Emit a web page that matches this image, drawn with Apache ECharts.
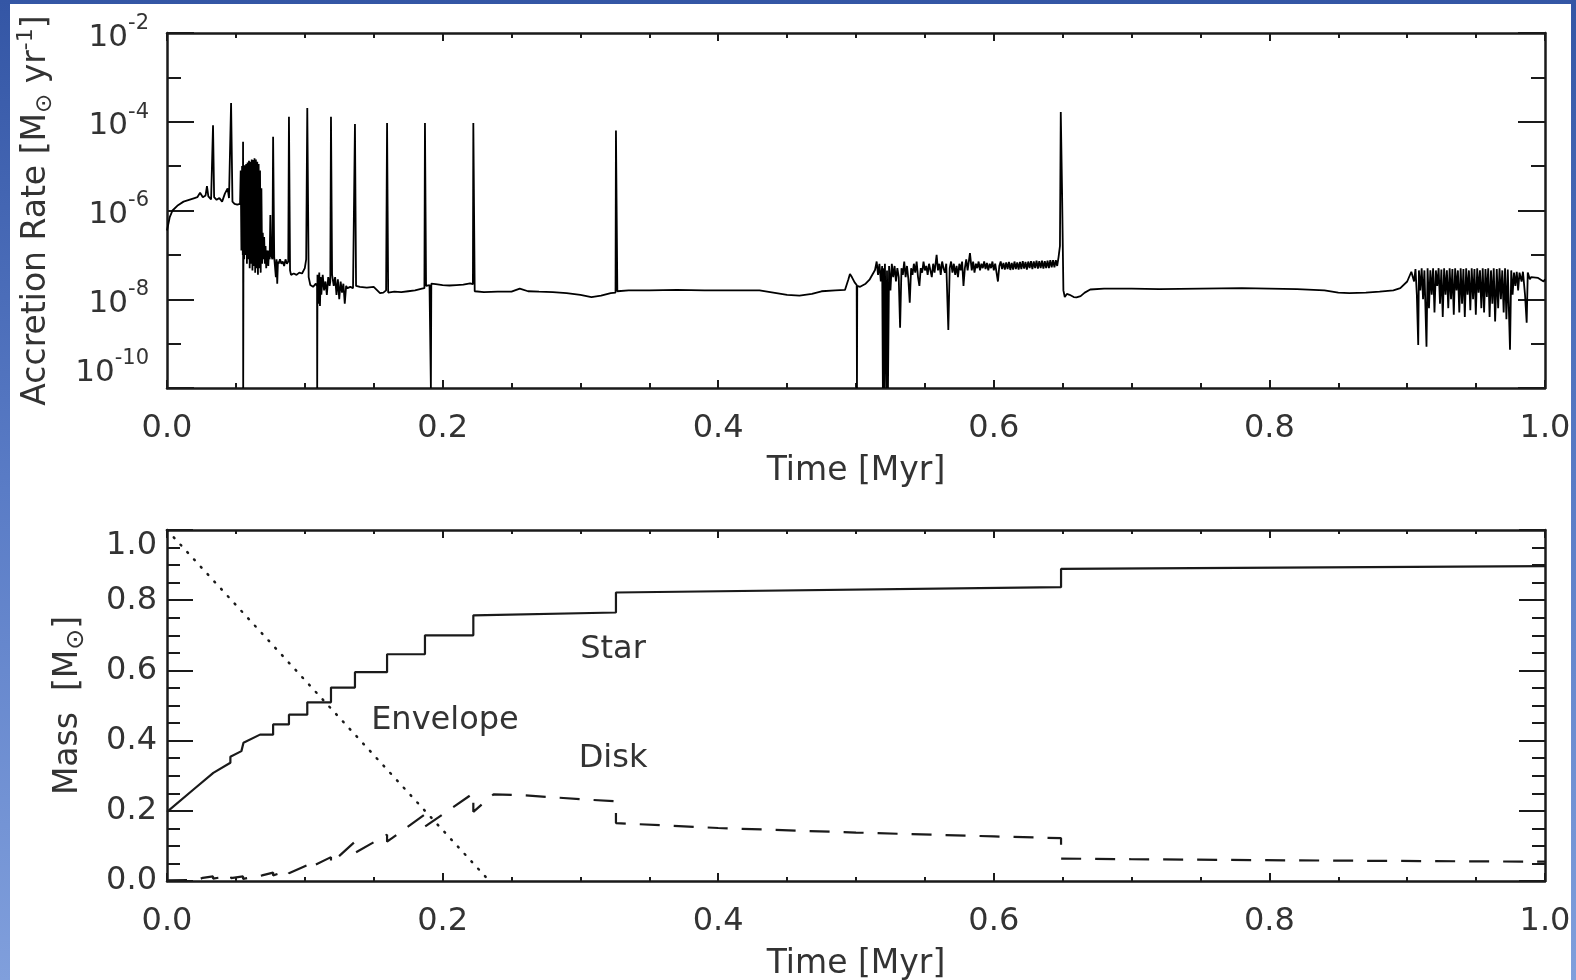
<!DOCTYPE html>
<html>
<head>
<meta charset="utf-8">
<script src="https://cdn.jsdelivr.net/npm/echarts@6/dist/echarts.min.js"></script>
<style>
html, body { margin: 0; padding: 0; width: 1576px; height: 980px; overflow: hidden;
  background: linear-gradient(180deg, #3456a5 0%, #5a7cc6 50%, #809fdc 100%); }
#chart { position: absolute; left: 10px; top: 4px; width: 1561px; height: 976px; background: #fff; }
</style>
</head>
<body>
<div id="chart"></div>
<script>
// accretion rate, time in Myr, rate as log10(Msun/yr)
var acc_time = [
  0.000, 0.002, 0.004, 0.008, 0.012, 0.016, 0.020, 0.022, 0.024, 0.026, 0.028, 0.029, 0.030, 0.032, 0.033, 0.0334, 0.0342,
  0.036, 0.038, 0.040, 0.042, 0.044, 0.045, 0.0457, 0.0465, 0.0475, 0.049, 0.051, 0.053,
  0.0535, 0.0540, 0.0545, 0.0550, 0.0552, 0.0553, 0.0556, 0.0560, 0.0565, 0.0570, 0.0575, 0.0580, 0.0585, 0.0590,
  0.0595, 0.0600, 0.0605, 0.0610, 0.0615, 0.0620, 0.0625, 0.0630, 0.0635, 0.0640, 0.0645, 0.0650, 0.0655, 0.0660,
  0.0665, 0.0670, 0.0675, 0.0680, 0.0685, 0.0690,
  0.0695, 0.0700, 0.0705, 0.0710, 0.0715, 0.0720, 0.0725, 0.0730, 0.0735, 0.0740, 0.0745, 0.0750, 0.0755, 0.0760,
  0.0765, 0.0770, 0.0778, 0.0790, 0.0795, 0.0800, 0.0805, 0.0810, 0.0820, 0.0830, 0.0840, 0.0850, 0.0860, 0.0870,
  0.0880, 0.0885, 0.0893, 0.0900, 0.0920, 0.0940, 0.0960, 0.0980, 0.1000, 0.1010, 0.1018, 0.1028, 0.1040, 0.1060,
  0.1080, 0.1089, 0.1090, 0.1092, 0.1100, 0.1105, 0.1110, 0.1115, 0.1120, 0.1130, 0.1140, 0.1150, 0.1160, 0.1170,
  0.1180, 0.1185, 0.1190, 0.1198, 0.1210, 0.1220, 0.1230, 0.1240, 0.1250, 0.1260, 0.1270, 0.1280, 0.1290, 0.1300,
  0.1310, 0.1330, 0.1350, 0.1364, 0.1372, 0.1400, 0.1450, 0.1500, 0.1546, 0.1570, 0.1590, 0.1597, 0.1605, 0.1650,
  0.1700, 0.1750, 0.1800, 0.1850, 0.1868, 0.1872, 0.1880, 0.1905, 0.1914, 0.1915, 0.1918, 0.1950, 0.2000, 0.2050,
  0.2100, 0.2150, 0.2200, 0.2220, 0.2223, 0.2233, 0.2300, 0.2400, 0.2500, 0.2560, 0.2620, 0.2700, 0.2800, 0.2900,
  0.3000, 0.3080, 0.3150, 0.3220, 0.3255, 0.3258, 0.3268, 0.3350, 0.3500, 0.3700, 0.3900, 0.4100, 0.4300, 0.4400,
  0.4500, 0.4590, 0.4680, 0.4750, 0.4850, 0.4920, 0.4945, 0.4956, 0.4970, 0.4990, 0.5005, 0.5007, 0.5009, 0.5030,
  0.5070, 0.5100, 0.5138,
  0.5150, 0.5160, 0.5170, 0.5180, 0.5190, 0.5195, 0.5200, 0.5205, 0.5210, 0.5220, 0.5225, 0.5232, 0.5240, 0.5250,
  0.5260, 0.5270, 0.5280, 0.5290, 0.5300, 0.5310, 0.5320, 0.5330, 0.5340, 0.5350, 0.5360, 0.5370, 0.5380, 0.5390,
  0.5400, 0.5410, 0.5420, 0.5430, 0.5440, 0.5450, 0.5460, 0.5470, 0.5480, 0.5490, 0.5500, 0.5510, 0.5520, 0.5530,
  0.5540, 0.5550, 0.5560, 0.5570, 0.5585, 0.5595, 0.5605, 0.5615, 0.5625, 0.5635, 0.5645, 0.5655, 0.5670, 0.5680,
  0.5690, 0.5700, 0.5710, 0.5720, 0.5730, 0.5740, 0.5750, 0.5760, 0.5770, 0.5780, 0.5790, 0.5800, 0.5810, 0.5827,
  0.5840, 0.5850, 0.5860, 0.5870, 0.5880, 0.5890, 0.5900, 0.5910, 0.5920, 0.5930, 0.5940, 0.5950, 0.5960, 0.5970,
  0.5980, 0.5990, 0.6000, 0.6010, 0.6030, 0.6040, 0.6050, 0.6060, 0.6070, 0.6080, 0.6090, 0.6100, 0.6110, 0.6120,
  0.6130, 0.6140, 0.6150, 0.6160, 0.6170, 0.6180, 0.6190, 0.6200, 0.6210, 0.6220, 0.6230, 0.6240, 0.6250, 0.6260,
  0.6270, 0.6280, 0.6290, 0.6300, 0.6310, 0.6320, 0.6330, 0.6340, 0.6350, 0.6360, 0.6370, 0.6380, 0.6390, 0.6400,
  0.6410, 0.6420, 0.6430, 0.6440, 0.6450, 0.6460, 0.6470, 0.6480, 0.6486, 0.6495, 0.6505, 0.6515, 0.6530, 0.6550,
  0.6580, 0.6600, 0.6630, 0.6660, 0.6700, 0.6800, 0.7000, 0.7200, 0.7500, 0.7800, 0.8000, 0.8200, 0.8400, 0.8500,
  0.8580, 0.8700, 0.8800, 0.8900, 0.8950, 0.9000, 0.9030,
  0.9040, 0.9050, 0.9060, 0.9070, 0.9080, 0.9085, 0.9095, 0.9105, 0.9115, 0.9125, 0.9140, 0.9148, 0.9158, 0.9168,
  0.9178, 0.9188, 0.9198, 0.9208, 0.9218, 0.9228, 0.9238, 0.9248, 0.9258, 0.9268, 0.9278, 0.9288, 0.9298, 0.9308,
  0.9318, 0.9328, 0.9338, 0.9348, 0.9358, 0.9368, 0.9378, 0.9388, 0.9398, 0.9408, 0.9418, 0.9428, 0.9438, 0.9448,
  0.9458, 0.9468, 0.9478, 0.9488, 0.9498, 0.9508, 0.9518, 0.9528, 0.9538, 0.9548, 0.9558, 0.9568, 0.9578, 0.9588,
  0.9598, 0.9608, 0.9618, 0.9628, 0.9638, 0.9650, 0.9660, 0.9670, 0.9680, 0.9690, 0.9700, 0.9710, 0.9720, 0.9730,
  0.9746, 0.9755, 0.9765, 0.9775, 0.9785, 0.9795, 0.9805, 0.9815, 0.9830, 0.9840, 0.9855, 0.9867, 0.9875, 0.9890,
  0.9900, 0.9950, 0.9990, 1.0000
];
var acc_log = [
  -6.45, -6.15, -6.00, -5.88, -5.80, -5.76, -5.72, -5.70, -5.60, -5.70, -5.66, -5.45, -5.68, -5.75, -5.72, -4.08, -5.70,
  -5.76, -5.72, -5.80, -5.62, -5.50, -5.72, -5.70, -3.58, -5.80, -5.85, -5.87, -5.85,
  -5.10, -6.90, -5.00, -7.00, -4.45, -10.0, -5.05, -7.10, -4.98, -7.00, -4.95, -7.20, -4.92, -7.10,
  -4.88, -7.30, -4.90, -7.20, -4.85, -7.35, -4.86, -7.25, -4.82, -7.40, -4.85, -7.30, -4.90, -7.45,
  -4.95, -7.30, -5.10, -7.40, -5.50, -7.20,
  -6.50, -7.10, -6.60, -7.20, -6.80, -7.30, -6.90, -7.00, -7.25, -6.90, -7.10, -6.10, -7.00, -7.05,
  -7.10, -4.34, -7.05, -7.50, -7.10, -7.65, -7.15, -7.20, -7.10, -7.20, -7.15, -7.25, -7.10, -7.20,
  -7.15, -3.89, -7.35, -7.45, -7.42, -7.45, -7.40, -7.42, -7.30, -7.10, -3.69, -7.50, -7.68, -7.72,
  -7.65, -7.70, -10.0, -7.45, -8.10, -7.40, -8.15, -7.50, -7.90, -7.45, -7.80, -7.60, -7.90, -7.50,
  -7.70, -7.60, -3.89, -7.45, -7.70, -7.50, -7.90, -7.55, -8.00, -7.60, -7.85, -7.65, -8.10, -7.70,
  -7.75, -7.72, -7.75, -4.05, -7.70, -7.72, -7.74, -7.72, -7.86, -7.85, -7.80, -4.03, -7.85, -7.83,
  -7.84, -7.82, -7.80, -7.76, -7.75, -4.03, -7.70, -7.68, -7.68, -10.0, -7.65, -7.66, -7.68, -7.69,
  -7.68, -7.67, -7.64, -7.66, -4.03, -7.82, -7.84, -7.83, -7.83, -7.76, -7.82, -7.83, -7.84, -7.86,
  -7.90, -7.95, -7.92, -7.86, -7.85, -4.20, -7.82, -7.80, -7.80, -7.79, -7.80, -7.80, -7.80, -7.85,
  -7.90, -7.92, -7.88, -7.82, -7.80, -7.79, -7.55, -7.43, -7.50, -7.62, -7.68, -10.0, -7.70, -7.72,
  -7.65, -7.55, -7.34,
  -7.15, -7.45, -7.20, -7.60, -7.25, -10.0, -7.30, -10.0, -7.20, -10.0, -7.35, -10.0, -7.25, -7.80,
  -7.20, -7.50, -7.25, -7.60, -7.30, -7.50, -8.64, -7.30, -7.45, -7.15, -7.50, -7.25, -7.55, -8.08,
  -7.30, -7.45, -7.20, -7.40, -7.15, -7.50, -7.70, -7.30, -7.40, -7.15, -7.35, -7.25, -7.45, -7.20,
  -7.35, -7.50, -7.20, -7.40, -7.00, -7.35, -7.20, -7.45, -7.15, -7.30, -7.40, -7.20, -8.69, -7.30,
  -7.15, -7.40, -7.20, -7.45, -7.25, -7.50, -7.20, -7.35, -7.15, -7.70, -7.30, -7.10, -7.35, -6.96,
  -7.35, -7.15, -7.40, -7.20, -7.30, -7.15, -7.35, -7.20, -7.30, -7.15, -7.32, -7.18, -7.35, -7.20,
  -7.30, -7.15, -7.35, -7.20, -7.60, -7.25, -7.15, -7.32, -7.18, -7.33, -7.17, -7.32, -7.16, -7.34,
  -7.18, -7.33, -7.15, -7.32, -7.17, -7.33, -7.16, -7.32, -7.14, -7.31, -7.16, -7.33, -7.15, -7.30,
  -7.14, -7.32, -7.15, -7.30, -7.13, -7.31, -7.14, -7.30, -7.13, -7.31, -7.14, -7.30, -7.13, -7.30,
  -7.12, -7.28, -7.12, -7.28, -7.12, -7.25, -7.05, -6.80, -3.78, -5.50, -7.80, -7.95, -7.88, -7.90,
  -7.95, -7.96, -7.93, -7.85, -7.78, -7.76, -7.76, -7.77, -7.76, -7.75, -7.76, -7.77, -7.80, -7.85,
  -7.86, -7.85, -7.83, -7.80, -7.75, -7.60, -7.38,
  -7.35, -7.60, -7.32, -7.90, -9.03, -7.35, -7.80, -7.30, -8.00, -7.35, -9.07, -7.30, -8.20, -7.35,
  -7.90, -7.30, -8.30, -7.35, -7.70, -7.30, -8.10, -7.33, -8.40, -7.30, -7.90, -7.35, -8.20, -7.30,
  -8.00, -7.32, -8.35, -7.30, -7.80, -7.35, -8.30, -7.30, -8.10, -7.32, -8.40, -7.30, -7.90, -7.35,
  -8.25, -7.30, -8.00, -7.32, -8.35, -7.30, -7.85, -7.35, -8.20, -7.30, -8.30, -7.32, -7.95, -7.30,
  -8.40, -7.35, -8.10, -7.30, -8.50, -7.32, -8.20, -7.30, -8.00, -7.35, -8.30, -7.30, -8.45, -7.33,
  -9.14, -7.35, -7.90, -7.40, -7.70, -7.38, -7.80, -7.40, -7.60, -7.38, -7.90, -8.53, -7.40, -7.55,
  -7.50, -7.52, -7.60, -7.55
];

// mass panel, time in Myr, mass in Msun
var star_time = [0, 0.019, 0.0336, 0.046, 0.046, 0.054, 0.0555, 0.0675, 0.077, 0.077, 0.0885, 0.0885, 0.1018, 0.1018,
  0.119, 0.119, 0.1364, 0.1364, 0.1597, 0.1597, 0.1872, 0.1872, 0.2223, 0.2223, 0.3258, 0.3258, 0.6488, 0.6488, 1.0];
var star_mass = [0.197, 0.26, 0.308, 0.337, 0.354, 0.37, 0.394, 0.417, 0.417, 0.446, 0.446, 0.474, 0.474, 0.509,
  0.509, 0.551, 0.551, 0.595, 0.595, 0.646, 0.646, 0.700, 0.700, 0.757, 0.765, 0.822, 0.837, 0.889, 0.897];

var envelope_time = [0, 0.234];
var envelope_mass = [1.0, 0.0];

var disk_time = [0, 0.022, 0.026, 0.0334, 0.0334, 0.0465, 0.0465, 0.0552, 0.0552, 0.069, 0.077, 0.077, 0.0885, 0.0885,
  0.1018, 0.1018, 0.119, 0.119, 0.1364, 0.1364, 0.1597, 0.1597, 0.1872, 0.1872, 0.2223, 0.2223, 0.237, 0.26, 0.30,
  0.3258, 0.3258, 0.40, 0.50, 0.60, 0.6488, 0.6488, 0.70, 0.85, 1.0];
var disk_mass = [0.002, 0.003, 0.009, 0.013, 0.007, 0.015, 0.008, 0.013, 0.006, 0.016, 0.024, 0.016, 0.030, 0.022,
  0.045, 0.035, 0.068, 0.050, 0.112, 0.080, 0.132, 0.112, 0.190, 0.155, 0.250, 0.197, 0.247, 0.244, 0.233,
  0.227, 0.165, 0.151, 0.138, 0.127, 0.122, 0.064, 0.062, 0.058, 0.055];

var label_text = ['Star', 'Envelope', 'Disk'];
var label_time = [0.3237, 0.2017, 0.3237];
var label_mass = [0.66, 0.457, 0.349];

var x_ticks = [0, 0.2, 0.4, 0.6, 0.8, 1.0];

var FONT = 'DejaVu Sans';
var INK = '#1a1a1a';
var TXT = '#333';

function pairs(xs, ys){
	var out = [];
	for(var i = 0; i < xs.length; i++){
		out.push([xs[i], ys[i]]);
	}
	return out;
}

function time_axis(grid, pos, labels, majorLen, minorLen){
	return {
		type: 'value',
		gridIndex: grid,
		position: pos,
		min: x_ticks[0],
		max: x_ticks[x_ticks.length - 1],
		interval: 0.2,
		name: labels ? 'Time [Myr]' : '',
		nameLocation: 'middle',
		nameGap: 67,
		nameMoveOverlap: false,
		nameTextStyle: {fontFamily: FONT, fontSize: 33, color: TXT},
		axisLine: {show: true, onZero: false, lineStyle: {color: INK, width: 2.5}},
		axisTick: {show: true, inside: true, length: majorLen, lineStyle: {color: INK, width: 2}},
		minorTick: {show: true, splitNumber: 4, length: minorLen, lineStyle: {color: INK, width: 2}},
		splitLine: {show: false},
		axisLabel: {
			show: labels,
			margin: 25,
			showMinLabel: true,
			showMaxLabel: true,
			fontFamily: FONT,
			fontSize: 32,
			color: TXT,
			formatter: function(v){ return v.toFixed(1); }
		}
	};
}

function rate_axis(pos, labels){
	return {
		type: 'value',
		gridIndex: 0,
		position: pos,
		min: -10,
		max: -2,
		interval: 2,
		name: labels ? '{n|Accretion Rate [M}{sub|\u2299}{n| yr}{sup|-1}{n|]}' : '',
		nameLocation: 'middle',
		nameGap: 110,
		nameMoveOverlap: false,
		nameTextStyle: {
			color: TXT,
			rich: {
				n: {fontFamily: FONT, fontSize: 33, color: TXT, verticalAlign: 'middle', lineHeight: 42},
				sub: {fontFamily: FONT, fontSize: 23, color: TXT, verticalAlign: 'bottom', lineHeight: 28},
				sup: {fontFamily: FONT, fontSize: 22, color: TXT, verticalAlign: 'top', lineHeight: 22}
			}
		},
		axisLine: {show: true, onZero: false, lineStyle: {color: INK, width: 2.5}},
		axisTick: {show: true, inside: true, length: 27, lineStyle: {color: INK, width: 2}},
		minorTick: {show: true, splitNumber: 2, length: 14, lineStyle: {color: INK, width: 2}},
		splitLine: {show: false},
		axisLabel: {
			show: labels,
			margin: 18,
			showMinLabel: true,
			showMaxLabel: true,
			verticalAlignMinLabel: 'bottom',
			formatter: function(v){ return '{b|10}{s|' + v + '}'; },
			rich: {
				b: {fontFamily: FONT, fontSize: 31, color: TXT, verticalAlign: 'bottom', lineHeight: 40},
				s: {fontFamily: FONT, fontSize: 21, color: TXT, verticalAlign: 'top', lineHeight: 24}
			}
		}
	};
}

function mass_axis(pos, labels){
	return {
		type: 'value',
		gridIndex: 1,
		position: pos,
		min: 0,
		max: 1,
		interval: 0.2,
		name: labels ? '{n|Mass  [M}{sub|\u2299}{n|]}' : '',
		nameLocation: 'middle',
		nameGap: 78,
		nameMoveOverlap: false,
		nameTextStyle: {
			color: TXT,
			rich: {
				n: {fontFamily: FONT, fontSize: 33, color: TXT, verticalAlign: 'middle', lineHeight: 42},
				sub: {fontFamily: FONT, fontSize: 25, color: TXT, verticalAlign: 'bottom', lineHeight: 30}
			}
		},
		axisLine: {show: true, onZero: false, lineStyle: {color: INK, width: 2.5}},
		axisTick: {show: true, inside: true, length: 26, lineStyle: {color: INK, width: 2}},
		minorTick: {show: true, splitNumber: 4, length: 13, lineStyle: {color: INK, width: 2}},
		splitLine: {show: false},
		axisLabel: {
			show: labels,
			margin: 10,
			showMinLabel: true,
			showMaxLabel: true,
			verticalAlignMaxLabel: 'top',
			fontFamily: FONT,
			fontSize: 32,
			color: TXT,
			formatter: function(v){ return v.toFixed(1); }
		}
	};
}

var chart = echarts.init(document.getElementById('chart'), null, {renderer: 'canvas'});

var label_data = [];
for(var k = 0; k < label_text.length; k++){
	label_data.push({name: label_text[k], value: [label_time[k], label_mass[k]]});
}

var option = {
	animation: false,
	backgroundColor: '#fff',
	grid: [
		{left: 157, top: 29, width: 1378, height: 355, outerBoundsMode: 'none', containLabel: false},
		{left: 157, top: 526, width: 1378, height: 351, outerBoundsMode: 'none', containLabel: false}
	],
	xAxis: [
		time_axis(0, 'bottom', true, 8, 5),
		time_axis(0, 'top', false, 8, 5),
		time_axis(1, 'bottom', true, 8, 4),
		time_axis(1, 'top', false, 8, 4)
	],
	yAxis: [
		rate_axis('left', true),
		rate_axis('right', false),
		mass_axis('left', true),
		mass_axis('right', false)
	],
	series: [
		{
			name: 'Accretion rate',
			type: 'line',
			xAxisIndex: 0,
			yAxisIndex: 0,
			data: pairs(acc_time, acc_log),
			showSymbol: false,
			symbol: 'none',
			clip: true,
			lineStyle: {color: '#000', width: 1.8}
		},
		{
			name: 'Star',
			type: 'line',
			xAxisIndex: 2,
			yAxisIndex: 2,
			data: pairs(star_time, star_mass),
			showSymbol: false,
			symbol: 'none',
			lineStyle: {color: INK, width: 2.2}
		},
		{
			name: 'Envelope',
			type: 'line',
			xAxisIndex: 2,
			yAxisIndex: 2,
			data: pairs(envelope_time, envelope_mass),
			showSymbol: false,
			symbol: 'none',
			lineStyle: {color: INK, width: 2.5, type: [1, 9], cap: 'round'}
		},
		{
			name: 'Disk',
			type: 'line',
			xAxisIndex: 2,
			yAxisIndex: 2,
			data: pairs(disk_time, disk_mass),
			showSymbol: false,
			symbol: 'none',
			lineStyle: {color: INK, width: 2.2, type: [20, 14]}
		},
		{
			name: 'labels',
			type: 'scatter',
			xAxisIndex: 2,
			yAxisIndex: 2,
			symbolSize: 0,
			itemStyle: {opacity: 1},
			data: label_data,
			label: {
				show: true,
				position: 'inside',
				formatter: '{b}',
				fontFamily: FONT,
				fontSize: 32,
				color: TXT,
				opacity: 1,
				textBorderWidth: 0
			}
		}
	]
};
chart.setOption(option);
</script>
</body>
</html>
